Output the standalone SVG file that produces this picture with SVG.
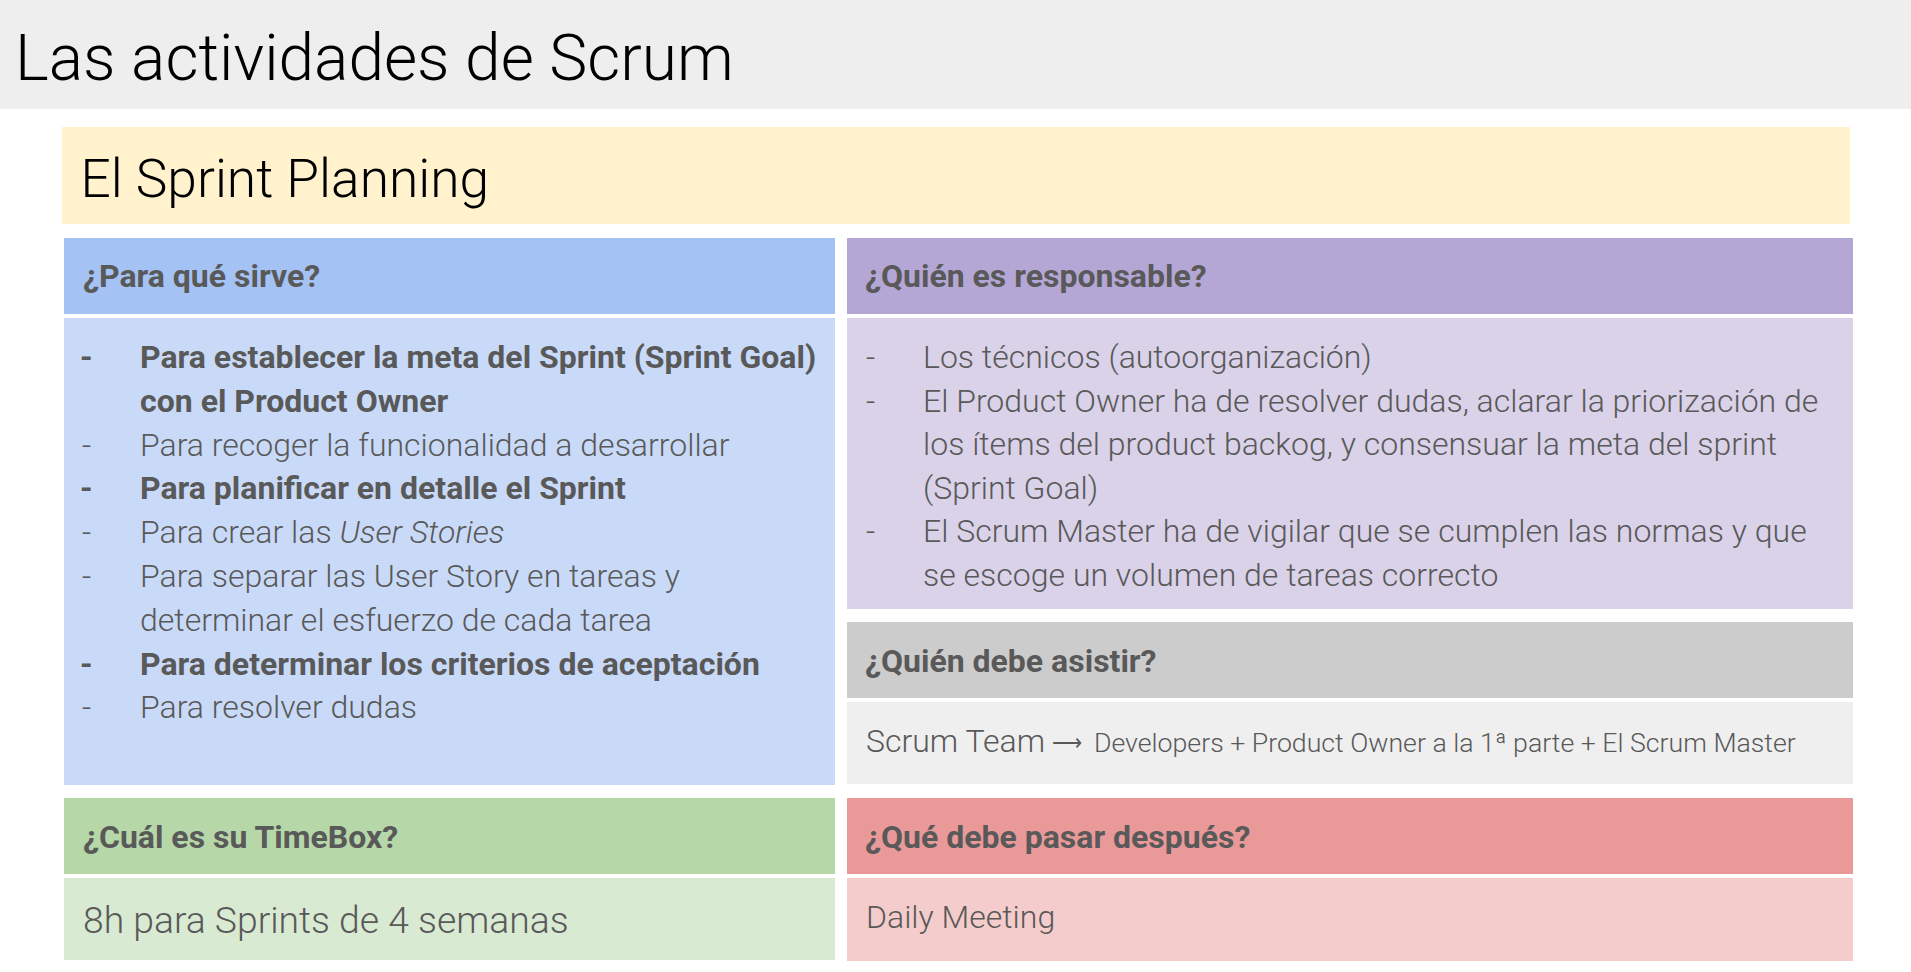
<svg xmlns="http://www.w3.org/2000/svg" width="1911" height="972" viewBox="0 0 1911 972">
<style>
text{font-family:Roboto,"Liberation Sans",sans-serif;fill:#595959}
.lt{font-weight:300}
.b{font-weight:700}
.h{font-weight:700;font-size:32px}
.body{font-weight:300;font-size:32px}
.title{font-weight:300;font-size:64px;fill:#000}
</style>
<rect width="1911" height="972" fill="#ffffff"/>
<g id="title">
<rect x="0" y="0" width="1911" height="109" fill="#eeeeee"/>
<text class="title" x="15" y="80">Las actividades de Scrum</text>
</g>
<g id="subtitle">
<rect x="62" y="127" width="1788" height="97" fill="#fff2cc"/>
<text class="lt" x="80.5" y="197" font-size="53.3" style="fill:#000">El Sprint Planning</text>
</g>
<g id="para-que-sirve">
<rect x="64" y="238" width="771" height="76" fill="#a4c2f4"/>
<text class="h" x="83" y="287">¿Para qué sirve?</text>
<rect x="64" y="318" width="771" height="467" fill="#c9daf8"/>
<g class="body">
<text class="b" x="80" y="368">-</text><text class="b" x="140" y="368">Para establecer la meta del Sprint (Sprint Goal)</text>
<text class="b" x="140" y="412">con el Product Owner</text>
<text x="82" y="456">-</text><text x="140" y="456">Para recoger la funcionalidad a desarrollar</text>
<text class="b" x="80" y="499">-</text><text class="b" x="140" y="499">Para planificar en detalle el Sprint</text>
<text x="82" y="543">-</text><text x="140" y="543">Para crear las <tspan font-style="italic">User Stories</tspan></text>
<text x="82" y="587">-</text><text x="140" y="587">Para separar las User Story en tareas y</text>
<text x="140" y="631">determinar el esfuerzo de cada tarea</text>
<text class="b" x="80" y="675">-</text><text class="b" x="140" y="675">Para determinar los criterios de aceptación</text>
<text x="82" y="718">-</text><text x="140" y="718">Para resolver dudas</text>
</g>
</g>
<g id="quien-responsable">
<rect x="847" y="238" width="1006" height="76" fill="#b4a7d6"/>
<text class="h" x="865" y="287">¿Quién es responsable?</text>
<rect x="847" y="318" width="1006" height="291" fill="#d9d2e9"/>
<g class="body">
<text x="866" y="368">-</text><text x="923" y="368">Los técnicos (autoorganización)</text>
<text x="866" y="412">-</text><text x="923" y="412">El Product Owner ha de resolver dudas, aclarar la priorización de</text>
<text x="923" y="455">los ítems del product backog, y consensuar la meta del sprint</text>
<text x="923" y="499">(Sprint Goal)</text>
<text x="866" y="542">-</text><text x="923" y="542">El Scrum Master ha de vigilar que se cumplen las normas y que</text>
<text x="923" y="586">se escoge un volumen de tareas correcto</text>
</g>
</g>
<g id="quien-asistir">
<rect x="847" y="622" width="1006" height="76" fill="#cccccc"/>
<text class="h" x="865" y="672">¿Quién debe asistir?</text>
<rect x="847" y="702" width="1006" height="82" fill="#efefef"/>
<text class="lt" x="866" y="752" font-size="32">Scrum Team<tspan x="1052" y="750" font-size="21">⟶</tspan><tspan x="1094" y="752" font-size="26.7">Developers + Product Owner a la 1ª parte + El Scrum Master</tspan></text>
</g>
<g id="timebox">
<rect x="64" y="798" width="771" height="76" fill="#b6d7a8"/>
<text class="h" x="83" y="848">¿Cuál es su TimeBox?</text>
<rect x="64" y="878" width="771" height="82" fill="#d9ead3"/>
<text class="lt" x="83" y="933" font-size="37.3">8h para Sprints de 4 semanas</text>
</g>
<g id="despues">
<rect x="847" y="798" width="1006" height="76" fill="#ea9999"/>
<text class="h" x="865" y="848">¿Qué debe pasar después?</text>
<rect x="847" y="878" width="1006" height="83" fill="#f4cccc"/>
<text class="lt" x="866" y="928" font-size="32">Daily Meeting</text>
</g>
<g id="connectors"/>
</svg>
